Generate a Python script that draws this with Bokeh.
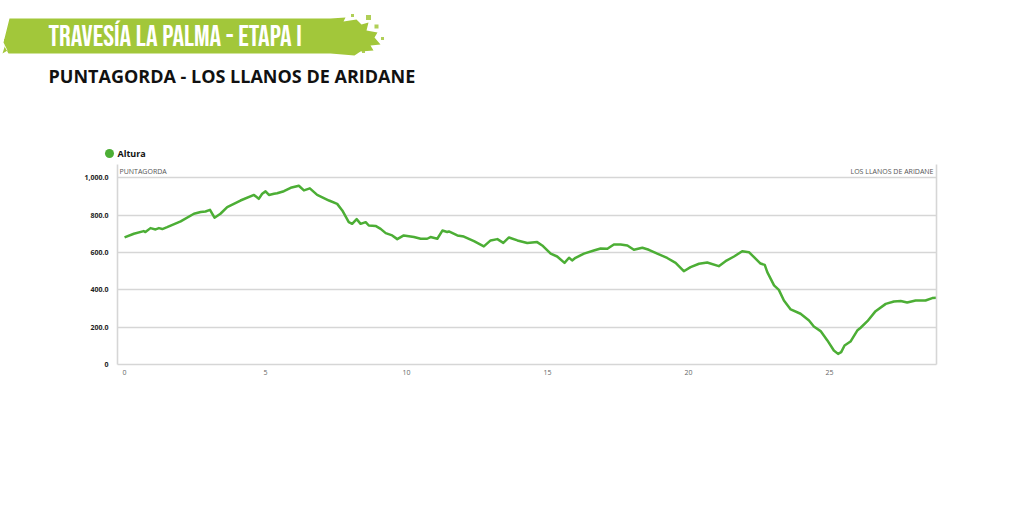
from bokeh.plotting import figure
from bokeh.models import Range1d, FixedTicker, LinearAxis, Label
from bokeh.layouts import column
from bokeh.core.properties import value
from bokeh.embed import file_html
from bokeh.resources import INLINE

# ---- data ----
distance_km = [0.0, 0.33, 0.68, 0.74, 0.92, 1.1, 1.22, 1.34, 1.51, 1.99, 2.46, 2.70, 2.87, 3.03,
               3.19, 3.40, 3.64, 4.11, 4.59, 4.76, 4.88, 5.0, 5.12, 5.3, 5.41, 5.65, 5.89, 6.18,
               6.36, 6.57, 6.83, 7.25, 7.54, 7.72, 7.95, 8.07, 8.23, 8.37, 8.55, 8.66, 8.9, 9.08,
               9.26, 9.49, 9.67, 9.9, 10.26, 10.5, 10.73, 10.85, 11.09, 11.27, 11.44, 11.5, 11.8,
               12.03, 12.39, 12.74, 12.98, 13.22, 13.43, 13.63, 13.93, 14.28, 14.63, 14.81, 15.11,
               15.34, 15.6, 15.76, 15.87, 15.99, 16.29, 16.64, 16.88, 17.12, 17.35, 17.59, 17.83,
               18.06, 18.36, 18.59, 18.89, 19.24, 19.54, 19.83, 20.07, 20.37, 20.66, 21.07, 21.31,
               21.61, 21.9, 22.14, 22.32, 22.55, 22.7, 22.79, 23.03, 23.2, 23.38, 23.62, 23.97,
               24.27, 24.44, 24.68, 24.92, 25.15, 25.3, 25.41, 25.53, 25.74, 25.98, 26.1, 26.34,
               26.63, 26.99, 27.28, 27.52, 27.75, 28.05, 28.4, 28.64, 28.82]
altura_m = [681, 701, 715, 710, 731, 724, 731, 726, 736, 767, 808, 817, 820, 829,
            787, 808, 844, 879, 909, 888, 915, 928, 909, 915, 918, 929, 947, 958,
            933, 944, 909, 879, 861, 826, 763, 754, 779, 754, 763, 745, 743, 727,
            704, 692, 672, 692, 683, 674, 674, 683, 674, 718, 710, 713, 692,
            686, 661, 633, 665, 672, 652, 681, 665, 651, 656, 638, 594,
            579, 545, 572, 558, 572, 594, 611, 622, 620, 643, 643, 638,
            615, 626, 615, 594, 571, 545, 500, 522, 540, 547, 527, 554,
            579, 607, 602, 575, 541, 534, 495, 424, 400, 343, 295, 272,
            236, 204, 179, 129, 75, 57, 66, 102, 123, 182, 197, 232,
            286, 325, 338, 340, 332, 343, 343, 356, 358]

x_ticks = [0, 5, 10, 15, 20, 25]
y_ticks = [0, 200, 400, 600, 800, 1000]
y_tick_labels = ["0", "200.0", "400.0", "600.0", "800.0", "1,000.0"]

series_name = "Altura"
title_text = "TRAVESÍA LA PALMA - ETAPA I"
subtitle_text = "PUNTAGORDA - LOS LLANOS DE ARIDANE"
start_name = "PUNTAGORDA"
end_name = "LOS LLANOS DE ARIDANE"

GREEN = "#4cae35"
LIME = "#a2c73a"
GRID = "#d6d6d6"
FONT = "Open Sans"
TITLE_FONT = "Bebas Neue"
W = 1020
HEAD_H = 160

# ---------------- header figure (page pixel coordinates) ----------------
h = figure(width=W, height=HEAD_H, output_backend="svg", toolbar_location=None,
           x_range=Range1d(0, W), y_range=Range1d(HEAD_H, 0),
           x_axis_type=None, y_axis_type=None, min_border=0)
h.frame_align = False
h.outline_line_color = None
h.xgrid.visible = False
h.ygrid.visible = False

# brush-stroke banner
bx = [2, 7, 3, 9, 330, 345, 343, 356, 361, 368, 366, 377, 374, 380, 370, 373,
      360, 354, 330, 8, 4, 8]
by = [53, 50, 42, 18, 18, 17, 21, 19, 24, 22, 30, 32, 37, 44, 45, 50,
      51, 55, 53, 53, 46, 34]
h.patch(bx, by, fill_color=LIME, line_color=None)
spl_x = [368, 376, 382, 363, 352, 5]
spl_y = [17, 26, 38, 51, 15, 40]
h.scatter(spl_x, spl_y, size=[5, 4, 3, 3, 3, 3], marker="square", fill_color=LIME,
          line_color=None, alpha=0.85)

h.text([48], [37], text=[title_text], text_font=value(TITLE_FONT),
       text_font_size="29px", text_color="white", text_baseline="middle")
h.text([48], [75], text=[subtitle_text], text_font=value(FONT),
       text_font_size="18px", text_font_style="bold", text_color="#111111",
       text_baseline="middle")

# legend entry
h.scatter([109], [153], size=9, marker="circle", fill_color=GREEN, line_color=None)
h.text([117], [153], text=[series_name], text_font=value(FONT), text_font_size="9px",
       text_font_style="bold", text_color="#111111", text_baseline="middle")

# ---------------- chart figure ----------------
p = figure(width=W, height=360, output_backend="svg", toolbar_location=None,
           x_range=Range1d(-0.25, 28.79), y_range=Range1d(0, 1072),
           min_border_left=117, min_border_right=W - 936, min_border_top=4,
           min_border_bottom=156)
p.frame_align = False
p.outline_line_color = None

p.line(distance_km, altura_m, line_color=GREEN, line_width=2.5, line_join="round")

p.xaxis.ticker = FixedTicker(ticks=x_ticks)
p.yaxis.ticker = FixedTicker(ticks=y_ticks)
p.yaxis.major_label_overrides = {t: l for t, l in zip(y_ticks, y_tick_labels)}
for ax in (p.xaxis[0], p.yaxis[0]):
    ax.axis_line_color = GRID
    ax.axis_line_width = 1.6
    ax.major_tick_line_color = None
    ax.major_tick_out = 0
    ax.major_tick_in = 0
    ax.minor_tick_line_color = None
    ax.minor_tick_out = 0
    ax.major_label_text_font = FONT
    ax.major_label_text_font_size = "7px"
p.yaxis.major_label_text_font_style = "bold"
p.yaxis.major_label_text_color = "#222222"
p.yaxis.major_label_standoff = 9
p.xaxis.major_label_text_color = "#666666"
p.xaxis.major_label_standoff = 5

right_ax = LinearAxis(major_label_text_font_size="0px", major_tick_line_color=None,
                      minor_tick_line_color=None, major_tick_out=0, minor_tick_out=0,
                      axis_line_color=GRID, axis_line_width=1.6,
                      ticker=FixedTicker(ticks=[]))
p.add_layout(right_ax, "right")

p.xgrid.grid_line_color = None
p.ygrid.grid_line_color = GRID
p.ygrid.grid_line_width = 1.6

p.add_layout(Label(x=2, y=193, x_units="screen", y_units="screen", text=start_name,
                   text_font=FONT, text_font_size="7px", text_color="#555555",
                   text_baseline="middle"))
p.add_layout(Label(x=816, y=193, x_units="screen", y_units="screen", text=end_name,
                   text_font=FONT, text_font_size="7px", text_color="#555555",
                   text_baseline="middle", text_align="right"))

layout = column(h, p, spacing=0)
open("out.html", "w").write(file_html(layout, INLINE))
